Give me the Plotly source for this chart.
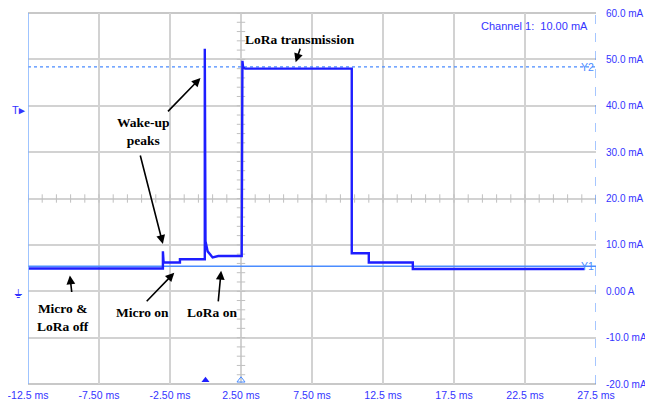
import numpy as np
import plotly.graph_objects as go

# ---------------- data ----------------
# oscilloscope current trace (time in ms, current in mA)
time_ms = [-12.45, -3.0, -3.0, -2.95, -1.8, -1.8, -0.05, -0.05, 0.0, 0.0, 0.15, 0.5, 0.9, 2.55,
           2.6, 2.65, 2.8, 10.3, 10.3, 11.5, 11.5, 14.6, 14.6, 26.7]
current_mA = [4.9, 4.9, 8.6, 6.2, 6.2, 6.9, 6.9, 52.3, 52.3, 10.8, 8.6, 7.3, 7.6, 7.6,
              49.7, 48.2, 48.0, 48.0, 8.2, 8.2, 6.2, 6.2, 4.8, 4.8]

y1_cursor_mA = 5.4
y2_cursor_mA = 48.4

x_tick_vals = [-12.5, -7.5, -2.5, 2.5, 7.5, 12.5, 17.5, 22.5, 27.5]
x_tick_text = ["-12.5 ms", "-7.50 ms", "-2.50 ms", "2.50 ms", "7.50 ms",
               "12.5 ms", "17.5 ms", "22.5 ms", "27.5 ms"]
y_tick_vals = [-20, -10, 0, 10, 20, 30, 40, 50, 60]
y_tick_text = ["-20.0 mA", "-10.0 mA", "0.00 A", "10.0 mA", "20.0 mA",
               "30.0 mA", "40.0 mA", "50.0 mA", "60.0 mA"]

# ---------------- styles ----------------
SIG = "#1e1eff"
CUR = "#4a8cff"
LAB = "#3434ff"
GRID = "#d2d2d2"
NARROW = "Liberation Sans Narrow, Arial Narrow, Liberation Sans, Arial"
SERIF = "Liberation Serif, Times New Roman, serif"

fig = go.Figure()

# centre-line minor ticks (scope graticule)
hx = np.arange(-12.5, 27.6, 1.0)
fig.add_trace(go.Scatter(x=hx, y=[20] * len(hx), mode="markers",
                         marker=dict(symbol="line-ns-open", size=6, color="#c0c0c0", line=dict(width=1)),
                         hoverinfo="skip", showlegend=False))
vy = np.arange(-20, 60.1, 2.0)
fig.add_trace(go.Scatter(x=[2.5] * len(vy), y=vy, mode="markers",
                         marker=dict(symbol="line-ew-open", size=6, color="#c0c0c0", line=dict(width=1)),
                         hoverinfo="skip", showlegend=False))

# cursors
fig.add_trace(go.Scatter(x=[-12.5, 27.5], y=[y1_cursor_mA, y1_cursor_mA], mode="lines",
                         line=dict(color=CUR, width=1.5), hoverinfo="skip", showlegend=False))
fig.add_trace(go.Scatter(x=[-12.5, 27.5], y=[y2_cursor_mA, y2_cursor_mA], mode="lines",
                         line=dict(color=CUR, width=1.2, dash="dot"), hoverinfo="skip", showlegend=False))

# signal
fig.add_trace(go.Scatter(x=time_ms, y=current_mA, mode="lines",
                         line=dict(color=SIG, width=2.4), showlegend=False))

# bottom trigger markers
fig.add_trace(go.Scatter(x=[0.0], y=[-19.2], mode="markers", cliponaxis=False,
                         marker=dict(symbol="triangle-up", size=7, color=SIG),
                         hoverinfo="skip", showlegend=False))
fig.add_trace(go.Scatter(x=[2.5], y=[-19.2], mode="markers", cliponaxis=False,
                         marker=dict(symbol="triangle-up-open", size=7, color=CUR, line=dict(width=1)),
                         hoverinfo="skip", showlegend=False))

# frame lines
fig.add_shape(type="line", xref="paper", yref="paper", x0=0, x1=1, y0=1, y1=1,
              line=dict(color="#c8c8c8", width=2), layer="below")
fig.add_shape(type="line", xref="paper", yref="paper", x0=0, x1=1, y0=0, y1=0,
              line=dict(color="#c8c8c8", width=2), layer="below")
fig.add_shape(type="line", xref="x", yref="paper", x0=-12.5, x1=-12.5, y0=0, y1=1,
              line=dict(color="#7fb0ff", width=1.5))
fig.add_shape(type="line", xref="x", yref="paper", x0=27.5, x1=27.5, y0=0, y1=1,
              line=dict(color=CUR, width=1, dash="dash"))
fig.add_shape(type="line", xref="paper", yref="paper", x0=0.12, x1=0.845, y0=1.018, y1=1.018,
              line=dict(color="#e4e4e4", width=1))

annots = []
arrow_kw = dict(showarrow=True, arrowhead=2, arrowsize=1.1, arrowwidth=1.6,
                arrowcolor="black", axref="pixel", ayref="pixel", text="")
annots.append(dict(x=6.35, y=49.4, ax=5, ay=-15, **arrow_kw))
annots.append(dict(x=-3.0, y=10.2, ax=-23, ay=-90, **arrow_kw))
annots.append(dict(x=-0.35, y=46.0, ax=-34, ay=35, **arrow_kw))
annots.append(dict(x=-9.55, y=3.4, ax=2, ay=18, **arrow_kw))
annots.append(dict(x=-2.2, y=4.0, ax=-29, ay=30, **arrow_kw))
annots.append(dict(x=1.1, y=4.4, ax=-3, ay=32, **arrow_kw))

tfont = dict(family=SERIF, size=13.5, color="black", weight="bold")
for txt, x, y in [("LoRa transmission", 6.65, 54.2),
                  ("Wake-up<br>peaks", -4.4, 34.4),
                  ("Micro &amp;<br>LoRa off", -10.05, -5.6),
                  ("Micro on", -4.45, -4.5),
                  ("LoRa on", 0.45, -4.5)]:
    annots.append(dict(x=x, y=y, text=txt, showarrow=False, font=tfont, align="center",
                       xanchor="center", yanchor="middle"))

annots.append(dict(xref="paper", yref="paper", x=0.99, y=0.965, text="Channel 1:  10.00 mA",
                   showarrow=False, xanchor="right", yanchor="middle",
                   font=dict(family=NARROW, size=11, color=LAB)))
annots.append(dict(xref="paper", yref="y", x=1.0, y=y2_cursor_mA, text="Y2",
                   showarrow=False, xanchor="right", yanchor="middle",
                   font=dict(family=NARROW, size=10.5, color=CUR)))
annots.append(dict(xref="paper", yref="y", x=1.0, y=y1_cursor_mA, text="Y1",
                   showarrow=False, xanchor="right", yanchor="middle",
                   font=dict(family=NARROW, size=10.5, color=CUR)))
annots.append(dict(xref="paper", yref="y", x=0.0, y=39, text="T<b>&#9656;</b>",
                   showarrow=False, xanchor="right", yanchor="middle", xshift=-1,
                   font=dict(family=NARROW, size=11, color=LAB)))
annots.append(dict(xref="paper", yref="y", x=0.0, y=0, text="&#9178;",
                   showarrow=False, xanchor="right", yanchor="middle", xshift=-3, yshift=-3,
                   font=dict(family="DejaVu Sans", size=12, color=LAB)))

# the page body adds an 8 px offset, so the figure is sized to fit the window
fig.update_layout(
    width=645, height=393,
    margin=dict(l=20, r=57, t=5, b=17, autoexpand=False),
    paper_bgcolor="white", plot_bgcolor="white",
    annotations=annots,
    xaxis=dict(range=[-12.5, 27.5], tickvals=x_tick_vals, ticktext=x_tick_text,
               showgrid=True, gridcolor=GRID, gridwidth=1.5, zeroline=False,
               showline=False, ticks="", ticklabelstandoff=3, automargin=False,
               ticklabeloverflow="allow",
               tickfont=dict(family=NARROW, size=10.5, color=LAB)),
    yaxis=dict(range=[-20, 60], tickvals=y_tick_vals, ticktext=y_tick_text, side="right",
               showgrid=True, gridcolor=GRID, gridwidth=1.5, zeroline=False,
               showline=False, ticks="", ticklabelstandoff=9, automargin=False,
               ticklabeloverflow="allow",
               tickfont=dict(family=NARROW, size=10, color=LAB)),
)

fig.write_html("out.html")
